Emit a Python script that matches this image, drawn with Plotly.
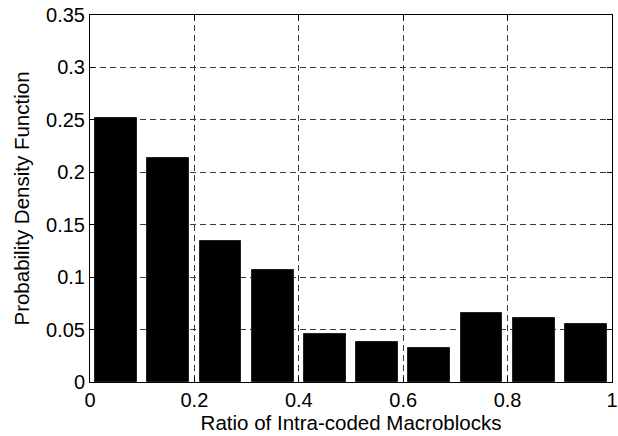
import plotly.graph_objects as go

bin_centers = [0.05, 0.15, 0.25, 0.35, 0.45, 0.55, 0.65, 0.75, 0.85, 0.95]
pdf_values = [0.2515, 0.2135, 0.1345, 0.107, 0.046, 0.0385, 0.0322, 0.0655, 0.0612, 0.055]
x_ticks = [0, 0.2, 0.4, 0.6, 0.8, 1]
x_tick_labels = ["0", "0.2", "0.4", "0.6", "0.8", "1"]
y_ticks = [0, 0.05, 0.1, 0.15, 0.2, 0.25, 0.3, 0.35]
y_tick_labels = ["0", "0.05", "0.1", "0.15", "0.2", "0.25", "0.3", "0.35"]

font_family = "Liberation Sans, Arial, sans-serif"

fig = go.Figure(go.Bar(
    x=bin_centers, y=pdf_values, width=0.08,
    marker=dict(color="black", line=dict(color="#222222", width=1)),
))

axis_common = dict(
    showline=True, linecolor="black", linewidth=1, mirror="ticks",
    ticks="inside", ticklen=5, tickcolor="black", tickwidth=1,
    showgrid=True, gridcolor="#3a3a3a", gridwidth=1, griddash="6px,4px",
    zeroline=False, ticklabeloverflow="allow", automargin=False,
    tickfont=dict(family=font_family, size=20, color="black"),
)

fig.update_layout(
    width=618, height=436,
    margin=dict(l=90, r=6, t=15, b=54),
    paper_bgcolor="white", plot_bgcolor="white",
    showlegend=False, bargap=0,
    font=dict(family=font_family, color="black"),
    xaxis=dict(
        range=[0, 1], tickvals=x_ticks, ticktext=x_tick_labels,
        title=dict(text="Ratio of Intra-coded Macroblocks", font=dict(family=font_family, size=20.5), standoff=2),
        **axis_common,
    ),
    yaxis=dict(
        range=[0, 0.35], tickvals=y_ticks, ticktext=y_tick_labels,
        title=dict(text="Probability Density Function", font=dict(family=font_family, size=20.5), standoff=10),
        **axis_common,
    ),
)

fig.write_html("out.html")
